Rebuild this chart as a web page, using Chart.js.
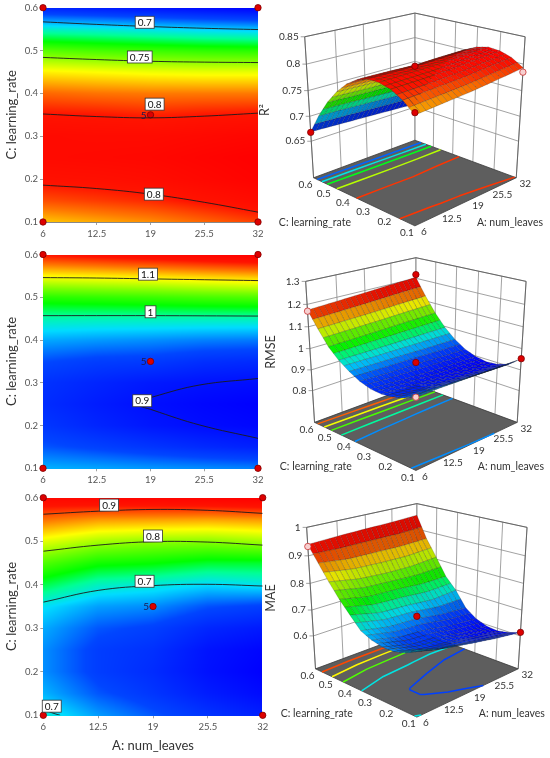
<!DOCTYPE html>
<html>
<head>
<meta charset="utf-8">
<script src="https://cdn.jsdelivr.net/npm/chart.js@4.4.0/dist/chart.umd.min.js"></script>
<style>
html, body { margin: 0; padding: 0; background: #fff; }
#wrap { position: relative; width: 550px; height: 758px; overflow: hidden; }
canvas { position: absolute; }
</style>
</head>
<body>
<div id="wrap">
	<canvas id="r2Contour" width="275" height="245" style="left:0;top:0"></canvas>
	<canvas id="r2Surface" width="275" height="245" style="left:275px;top:0"></canvas>
	<canvas id="rmseContour" width="275" height="245" style="left:0;top:245px"></canvas>
	<canvas id="rmseSurface" width="275" height="245" style="left:275px;top:245px"></canvas>
	<canvas id="maeContour" width="275" height="268" style="left:0;top:490px"></canvas>
	<canvas id="maeSurface" width="275" height="268" style="left:275px;top:490px"></canvas>
</div>
<script>
// 読み取ったグリッド（行 = C: learning_rate、列 = A: num_leaves）
const A_LEVELS = [6, 12.5, 19, 25.5, 32];
const C_LEVELS = [0.1, 0.15, 0.2, 0.25, 0.3, 0.35, 0.4, 0.45, 0.5, 0.55, 0.6];
const A_TICKS = [6, 12.5, 19, 25.5, 32];
const C_TICKS = [0.1, 0.2, 0.3, 0.4, 0.5, 0.6];

const R2_GRID = [
	[0.773, 0.777, 0.781, 0.787, 0.793],
	[0.791, 0.794, 0.797, 0.802, 0.807],
	[0.803, 0.804, 0.806, 0.810, 0.814],
	[0.808, 0.809, 0.810, 0.813, 0.816],
	[0.808, 0.807, 0.807, 0.809, 0.811],
	[0.801, 0.800, 0.798, 0.800, 0.801],
	[0.787, 0.785, 0.784, 0.784, 0.784],
	[0.767, 0.765, 0.763, 0.762, 0.762],
	[0.741, 0.738, 0.736, 0.734, 0.733],
	[0.708, 0.706, 0.703, 0.700, 0.698],
	[0.669, 0.666, 0.663, 0.660, 0.657]
];
const RMSE_GRID = [
	[0.965, 0.962, 0.958, 0.955, 0.952],
	[0.940, 0.932, 0.924, 0.916, 0.910],
	[0.925, 0.913, 0.903, 0.896, 0.892],
	[0.918, 0.907, 0.898, 0.892, 0.888],
	[0.922, 0.913, 0.905, 0.900, 0.897],
	[0.937, 0.930, 0.928, 0.920, 0.917],
	[0.963, 0.959, 0.956, 0.952, 0.950],
	[0.996, 0.995, 0.995, 0.995, 0.995],
	[1.040, 1.043, 1.046, 1.050, 1.053],
	[1.105, 1.109, 1.113, 1.119, 1.124],
	[1.175, 1.182, 1.190, 1.198, 1.205]
];
const MAE_GRID = [
	[0.705, 0.672, 0.650, 0.630, 0.614],
	[0.680, 0.650, 0.632, 0.612, 0.598],
	[0.668, 0.638, 0.624, 0.603, 0.590],
	[0.668, 0.638, 0.628, 0.605, 0.594],
	[0.677, 0.650, 0.640, 0.620, 0.610],
	[0.695, 0.673, 0.667, 0.648, 0.640],
	[0.737, 0.710, 0.703, 0.692, 0.698],
	[0.780, 0.757, 0.752, 0.742, 0.742],
	[0.830, 0.810, 0.802, 0.800, 0.808],
	[0.885, 0.872, 0.870, 0.868, 0.872],
	[0.940, 0.945, 0.948, 0.950, 0.955]
];

// 等高線（A, C）
const R2_CONTOURS = [
	[[6, 0.567], [12.5, 0.561], [19, 0.556], [25.5, 0.552], [32, 0.549]],
	[[6, 0.484], [12.5, 0.479], [19, 0.475], [25.5, 0.473], [32, 0.472]],
	[[6, 0.352], [12.5, 0.346], [19, 0.343], [25.5, 0.347], [32, 0.354]],
	[[6, 0.186], [12.5, 0.178], [19, 0.165], [25.5, 0.146], [32, 0.123]]
];
const R2_LABELS = [['0.7', 18.3, 0.566], ['0.75', 17.7, 0.485], ['0.8', 19.5, 0.375], ['0.8', 19.4, 0.165]];
const RMSE_CONTOURS = [
	[[6, 0.546], [12.5, 0.545], [19, 0.543], [25.5, 0.541], [32, 0.539]],
	[[6, 0.457], [19, 0.457], [32, 0.456]],
	[[32, 0.31], [25, 0.295], [19.3, 0.267], [17.2, 0.252], [19.3, 0.236], [25, 0.201], [32, 0.17]]
];
const RMSE_LABELS = [['1.1', 18.7, 0.554], ['1', 19.0, 0.466], ['0.9', 18.0, 0.258]];
const MAE_CONTOURS = [
	[[6, 0.562], [12.5, 0.569], [19, 0.573], [25.5, 0.571], [32, 0.564]],
	[[6, 0.477], [12.5, 0.491], [19, 0.499], [25.5, 0.498], [32, 0.491]],
	[[6, 0.36], [12.5, 0.387], [19, 0.398], [25.5, 0.401], [32, 0.397]],
	[[6, 0.114], [7, 0.106], [8, 0.1]]
];
const MAE_LABELS = [['0.9', 13.8, 0.583], ['0.8', 19.0, 0.512], ['0.7', 18.0, 0.408], ['0.7', 7.0, 0.121]];

// 計画点
const DESIGN_POINTS = [[6, 0.1], [6, 0.6], [32, 0.1], [32, 0.6], [19, 0.35]];
const CENTER_POINT = [19, 0.35];

// 3D: 軸目盛り・床の等高線レベル・実測点 (A, C, 値)
const R2_ZTICKS = [0.65, 0.7, 0.75, 0.8, 0.85];
const RMSE_ZTICKS = [0.8, 0.9, 1, 1.1, 1.2, 1.3];
const MAE_ZTICKS = [0.6, 0.7, 0.8, 0.9, 1];
const R2_FLOOR = [0.685, 0.705, 0.725, 0.755, 0.795];
const RMSE_FLOOR = [0.955, 1.0, 1.05, 1.1, 1.15];
const MAE_FLOOR = [0.64, 0.7, 0.78, 0.84, 0.9];
const R2_POINTS = [[6, 0.6, 0.668], [19, 0.35, 0.796], [6, 0.1, 0.777]];
const R2_POINTS_BELOW = [[32, 0.1, 0.785]];
const RMSE_POINTS = [[32, 0.6, 1.218], [19, 0.35, 0.935], [32, 0.1, 0.953]];
const RMSE_POINTS_BELOW = [[6, 0.6, 1.17], [6, 0.1, 0.963]];
const MAE_POINTS = [[19, 0.35, 0.676], [32, 0.1, 0.614]];
const MAE_POINTS_BELOW = [[6, 0.6, 0.933]];

const FONT = 'Lato, "Open Sans", sans-serif';
Chart.defaults.font.family = FONT;

// カラーマップ（青→シアン→緑→黄→赤）
const CMAP = [
	[0.00, [0, 0, 255]], [0.15, [0, 70, 255]], [0.28, [0, 220, 255]], [0.36, [0, 255, 150]],
	[0.44, [0, 255, 0]], [0.56, [120, 255, 0]], [0.68, [255, 255, 0]], [0.80, [255, 120, 0]],
	[0.90, [255, 20, 0]], [1.00, [255, 0, 0]]
];
function colorAt(t) {
	t = Math.max(0, Math.min(1, t));
	for (let i = 1; i < CMAP.length; i++) {
		if (t <= CMAP[i][0]) {
			const t0 = CMAP[i - 1][0], c0 = CMAP[i - 1][1], t1 = CMAP[i][0], c1 = CMAP[i][1];
			const f = (t - t0) / (t1 - t0);
			return [0, 1, 2].map(k => c0[k] + f * (c1[k] - c0[k]));
		}
	}
	return CMAP[CMAP.length - 1][1].slice();
}
const rgb = c => `rgb(${Math.round(c[0])},${Math.round(c[1])},${Math.round(c[2])})`;
function gridRange(grid) {
	const all = grid.flat();
	return [Math.min(...all), Math.max(...all)];
}
// グリッド上の描画用サンプル
function sample(grid, a, c) {
	let fi = (a - A_LEVELS[0]) / (A_LEVELS[1] - A_LEVELS[0]);
	let fj = (c - C_LEVELS[0]) / (C_LEVELS[1] - C_LEVELS[0]);
	fi = Math.max(0, Math.min(A_LEVELS.length - 1.0001, fi));
	fj = Math.max(0, Math.min(C_LEVELS.length - 1.0001, fj));
	const i = Math.floor(fi), j = Math.floor(fj), u = fi - i, v = fj - j;
	return grid[j][i] * (1 - u) * (1 - v) + grid[j][i + 1] * u * (1 - v) +
		grid[j + 1][i] * (1 - u) * v + grid[j + 1][i + 1] * u * v;
}

// ---------- 等高線図 ----------
function makeContourPlugin(cfg) {
	const [vmin, vmax] = gridRange(cfg.grid);
	return {
		id: 'contourField',
		beforeDatasetsDraw(chart) {
			const { ctx, chartArea: ca, scales: { x, y } } = chart;
			const w = Math.round(ca.right - ca.left), h = Math.round(ca.bottom - ca.top);
			const off = document.createElement('canvas');
			off.width = w; off.height = h;
			const octx = off.getContext('2d');
			const img = octx.createImageData(w, h);
			for (let py = 0; py < h; py++) {
				const c = y.getValueForPixel(ca.top + py + 0.5);
				for (let px = 0; px < w; px++) {
					const a = x.getValueForPixel(ca.left + px + 0.5);
					const col = colorAt((sample(cfg.grid, a, c) - vmin) / (vmax - vmin));
					const k = (py * w + px) * 4;
					img.data[k] = col[0]; img.data[k + 1] = col[1]; img.data[k + 2] = col[2]; img.data[k + 3] = 255;
				}
			}
			octx.putImageData(img, 0, 0);
			ctx.drawImage(off, ca.left, ca.top, w, h);
		},
		afterDatasetsDraw(chart) {
			const { ctx, scales: { x, y } } = chart;
			ctx.save();
			ctx.font = `10px ${FONT}`;
			ctx.textAlign = 'center';
			ctx.textBaseline = 'middle';
			cfg.labels.forEach(([txt, a, c]) => {
				const px = x.getPixelForValue(a), py = y.getPixelForValue(c);
				const tw = ctx.measureText(txt).width + 5;
				ctx.fillStyle = '#fff';
				ctx.fillRect(px - tw / 2, py - 6, tw, 12);
				ctx.strokeStyle = '#333';
				ctx.lineWidth = 0.8;
				ctx.strokeRect(px - tw / 2, py - 6, tw, 12);
				ctx.fillStyle = '#111';
				ctx.fillText(txt, px, py + 0.5);
			});
			// 中心点の反復数
			ctx.fillStyle = '#1a1a50';
			ctx.textAlign = 'right';
			ctx.fillText('5', x.getPixelForValue(CENTER_POINT[0]) - 4, y.getPixelForValue(CENTER_POINT[1]) + 0.5);
			// 応答名
			ctx.translate(cfg.sideX, cfg.sideY);
			ctx.rotate(-Math.PI / 2);
			ctx.textAlign = 'center';
			ctx.fillStyle = '#333';
			ctx.font = `12.5px ${FONT}`;
			ctx.fillText(cfg.side, 0, 0);
			ctx.restore();
		}
	};
}

function contourChart(id, cfg) {
	const datasets = cfg.contours.map(pts => ({
		data: pts.map(p => ({ x: p[0], y: p[1] })),
		showLine: true,
		borderColor: '#1c1c1c',
		borderWidth: 0.9,
		pointRadius: 0,
		tension: 0.4
	}));
	datasets.push({
		data: DESIGN_POINTS.map(p => ({ x: p[0], y: p[1] })),
		pointRadius: 3.2,
		backgroundColor: '#dd0000',
		borderColor: '#800000',
		borderWidth: 0.8,
		clip: false
	});
	const axisGrid = { display: true, drawOnChartArea: false, drawTicks: true, tickLength: 3, color: '#888', lineWidth: 0.8 };
	return new Chart(document.getElementById(id), {
		type: 'scatter',
		data: { datasets },
		options: {
			responsive: false,
			animation: false,
			events: [],
			layout: { padding: { top: cfg.padTop, right: cfg.padRight, left: 0, bottom: 0 } },
			plugins: { legend: { display: false }, tooltip: { enabled: false } },
			scales: {
				x: {
					type: 'linear', min: 6, max: 32,
					afterBuildTicks: s => { s.ticks = A_TICKS.map(v => ({ value: v })); },
					afterFit: s => { s.height = cfg.xHeight; },
					grid: axisGrid,
					border: { display: true, color: '#888' },
					ticks: { padding: 3, color: '#555', font: { size: 9.5 }, maxRotation: 0, autoSkip: false, callback: v => String(v) },
					title: { display: !!cfg.xTitle, text: cfg.xTitle || '', color: '#333', font: { size: 13 } }
				},
				y: {
					type: 'linear', min: 0.1, max: 0.6,
					afterBuildTicks: s => { s.ticks = C_TICKS.map(v => ({ value: v })); },
					afterFit: s => { s.width = cfg.yWidth; },
					grid: axisGrid,
					border: { display: true, color: '#888' },
					ticks: { padding: 2, color: '#555', font: { size: 9.5 }, autoSkip: false, callback: v => String(v) },
					title: { display: true, text: 'C: learning_rate', color: '#333', font: { size: 13 } }
				}
			}
		},
		plugins: [makeContourPlugin(cfg)]
	});
}

// ---------- 3D 曲面 ----------
const VIEW = { elev: 24.7 * Math.PI / 180, dist: 5.19, scale: 148.5 };
function world(a, c, z, cfg) {
	return [(a - 6) / 26 - 0.5, (c - 0.1) / 0.5 - 0.5, (z - cfg.zFloor) / (cfg.zTop - cfg.zFloor)];
}
function project(a, c, z, cfg) {
	const [X, Y, Z] = world(a, c, z, cfg);
	const se = Math.sin(VIEW.elev), ce = Math.cos(VIEW.elev);
	const r = (X - Y) / Math.SQRT2;
	const f = (X + Y) / Math.SQRT2;
	const up = se * f + ce * Z;
	const depth = VIEW.dist + ce * f - se * Z;
	const k = VIEW.dist / depth;
	return { x: r * k, y: up * k, depth };
}
function floorSegments(grid, level) {
	const segs = [];
	for (let j = 0; j < C_LEVELS.length - 1; j++) {
		for (let i = 0; i < A_LEVELS.length - 1; i++) {
			const cs = [
				[A_LEVELS[i], C_LEVELS[j], grid[j][i]],
				[A_LEVELS[i + 1], C_LEVELS[j], grid[j][i + 1]],
				[A_LEVELS[i + 1], C_LEVELS[j + 1], grid[j + 1][i + 1]],
				[A_LEVELS[i], C_LEVELS[j + 1], grid[j + 1][i]]
			];
			const pts = [];
			for (let e = 0; e < 4; e++) {
				const p = cs[e], q = cs[(e + 1) % 4];
				if ((p[2] < level) !== (q[2] < level)) {
					const t = (level - p[2]) / (q[2] - p[2]);
					pts.push([p[0] + t * (q[0] - p[0]), p[1] + t * (q[1] - p[1])]);
				}
			}
			if (pts.length === 2) segs.push(pts);
			else if (pts.length === 4) { segs.push([pts[0], pts[1]]); segs.push([pts[2], pts[3]]); }
		}
	}
	return segs;
}
const norm3 = v => { const l = Math.hypot(v[0], v[1], v[2]) || 1; return [v[0] / l, v[1] / l, v[2] / l]; };
const LIGHT = norm3([-0.3, -0.15, 1]);
const VIEWER = norm3([-0.64, -0.64, 0.42]);
const HALF = norm3([LIGHT[0] + VIEWER[0], LIGHT[1] + VIEWER[1], LIGHT[2] + VIEWER[2]]);

function makeSurfacePlugin(cfg) {
	const P = (a, c, z) => project(a, c, z, cfg);
	const [vmin, vmax] = gridRange(cfg.grid);
	const zF = cfg.zFloor;
	return {
		id: 'surface3d',
		beforeDatasetsDraw(chart) {
			const { ctx, scales: { x, y } } = chart;
			const pix = p => [x.getPixelForValue(p.x), y.getPixelForValue(p.y)];
			const seg = (p, q) => { const a = pix(p), b = pix(q); ctx.moveTo(a[0], a[1]); ctx.lineTo(b[0], b[1]); };
			ctx.save();
			// 背面の壁とグリッド
			ctx.strokeStyle = '#8a8a8a';
			ctx.lineWidth = 0.8;
			ctx.beginPath();
			A_TICKS.forEach(a => seg(P(a, 0.6, zF), P(a, 0.6, cfg.zTop)));
			C_TICKS.forEach(c => seg(P(32, c, zF), P(32, c, cfg.zTop)));
			cfg.zTicks.forEach(z => {
				seg(P(6, 0.6, z), P(32, 0.6, z));
				seg(P(32, 0.6, z), P(32, 0.1, z));
				const t = pix(P(6, 0.6, z));
				ctx.moveTo(t[0] - 4, t[1]); ctx.lineTo(t[0], t[1]);
			});
			ctx.stroke();
			ctx.strokeStyle = '#555';
			ctx.beginPath();
			seg(P(6, 0.6, cfg.zTop), P(32, 0.6, cfg.zTop));
			seg(P(32, 0.6, cfg.zTop), P(32, 0.1, cfg.zTop));
			seg(P(6, 0.6, zF), P(6, 0.6, cfg.zTop));
			seg(P(32, 0.1, zF), P(32, 0.1, cfg.zTop));
			ctx.stroke();
			// 床
			const fl = [P(6, 0.1, zF), P(32, 0.1, zF), P(32, 0.6, zF), P(6, 0.6, zF)].map(pix);
			ctx.beginPath();
			fl.forEach((p, i) => (i ? ctx.lineTo(p[0], p[1]) : ctx.moveTo(p[0], p[1])));
			ctx.closePath();
			ctx.fillStyle = '#5e5e5e';
			ctx.fill();
			ctx.strokeStyle = '#3a3a3a';
			ctx.lineWidth = 0.8;
			ctx.stroke();
			// 床の等高線
			ctx.lineWidth = 1.5;
			cfg.floorLevels.forEach(lv => {
				ctx.strokeStyle = rgb(colorAt((lv - vmin) / (vmax - vmin)));
				ctx.beginPath();
				floorSegments(cfg.grid, lv).forEach(([p, q]) => seg(P(p[0], p[1], zF), P(q[0], q[1], zF)));
				ctx.stroke();
			});
			// 曲面
			const NA = 22, NC = 20;
			const nodes = [];
			for (let l = 0; l <= NC; l++) {
				const row = [];
				for (let k = 0; k <= NA; k++) {
					const a = 6 + 26 * k / NA, c = 0.1 + 0.5 * l / NC;
					const v = sample(cfg.grid, a, c);
					const p = P(a, c, v);
					row.push({ v, w: world(a, c, v, cfg), p, s: pix(p) });
				}
				nodes.push(row);
			}
			const quads = [];
			for (let l = 0; l < NC; l++) {
				for (let k = 0; k < NA; k++) {
					const q = [nodes[l][k], nodes[l][k + 1], nodes[l + 1][k + 1], nodes[l + 1][k]];
					const u = q[1].w.map((t, i) => t - q[0].w[i]);
					const v = q[3].w.map((t, i) => t - q[0].w[i]);
					let n = norm3([u[1] * v[2] - u[2] * v[1], u[2] * v[0] - u[0] * v[2], u[0] * v[1] - u[1] * v[0]]);
					if (n[2] < 0) n = n.map(t => -t);
					const diff = Math.max(0, n[0] * LIGHT[0] + n[1] * LIGHT[1] + n[2] * LIGHT[2]);
					const spec = Math.pow(Math.max(0, n[0] * HALF[0] + n[1] * HALF[1] + n[2] * HALF[2]), 40);
					const base = colorAt(((q[0].v + q[1].v + q[2].v + q[3].v) / 4 - vmin) / (vmax - vmin));
					const col = base.map(ch => Math.min(255, ch * (0.62 + 0.38 * diff) + 70 * spec));
					quads.push({ q, col, depth: (q[0].p.depth + q[1].p.depth + q[2].p.depth + q[3].p.depth) / 4 });
				}
			}
			quads.sort((m, n) => n.depth - m.depth);
			ctx.lineWidth = 0.4;
			ctx.strokeStyle = 'rgba(25,25,25,0.5)';
			quads.forEach(({ q, col }) => {
				ctx.beginPath();
				q.forEach((nd, i) => (i ? ctx.lineTo(nd.s[0], nd.s[1]) : ctx.moveTo(nd.s[0], nd.s[1])));
				ctx.closePath();
				ctx.fillStyle = rgb(col);
				ctx.fill();
				ctx.stroke();
			});
			ctx.restore();
		},
		afterDraw(chart) {
			const { ctx, scales: { x, y } } = chart;
			const pix = p => [x.getPixelForValue(p.x), y.getPixelForValue(p.y)];
			ctx.save();
			ctx.fillStyle = '#333';
			ctx.font = `10px ${FONT}`;
			ctx.textBaseline = 'middle';
			ctx.textAlign = 'right';
			cfg.zTicks.forEach(z => { const t = pix(P(6, 0.6, z)); ctx.fillText(String(z), t[0] - 6, t[1]); });
			ctx.textAlign = 'center';
			C_TICKS.forEach(c => { const t = pix(P(6, c, zF)); ctx.fillText(String(c), t[0] - 8, t[1] + 7); });
			A_TICKS.forEach(a => { const t = pix(P(a, 0.1, zF)); ctx.fillText(String(a), t[0] + 9, t[1] + 6); });
			ctx.font = `10.5px ${FONT}`;
			const ct = pix(P(6, 0.35, zF));
			ctx.fillText('C: learning_rate', ct[0] - 46, ct[1] + 22);
			const at = pix(P(19, 0.1, zF));
			ctx.fillText('A: num_leaves', at[0] + 41, at[1] + 22);
			ctx.restore();
		}
	};
}

function surfaceChart(id, cfg) {
	const canvas = document.getElementById(id);
	const W = canvas.width, H = canvas.height, S = VIEW.scale;
	const toXY = p => { const q = project(p[0], p[1], p[2], cfg); return { x: q.x, y: q.y }; };
	return new Chart(canvas, {
		type: 'scatter',
		data: {
			datasets: [{
				data: cfg.points.map(toXY),
				pointRadius: 3.2,
				backgroundColor: '#dd0000',
				borderColor: '#800000',
				borderWidth: 0.8,
				clip: false
			}, {
				data: cfg.pointsBelow.map(toXY),
				pointRadius: 3.2,
				backgroundColor: '#f7d0d0',
				borderColor: '#c83030',
				borderWidth: 0.8,
				clip: false
			}]
		},
		options: {
			responsive: false,
			animation: false,
			events: [],
			layout: { padding: 0 },
			plugins: { legend: { display: false }, tooltip: { enabled: false } },
			scales: {
				x: { type: 'linear', display: false, min: -cfg.ox / S, max: (W - cfg.ox) / S },
				y: { type: 'linear', display: false, min: -(H - cfg.oy) / S, max: cfg.oy / S }
			}
		},
		plugins: [makeSurfacePlugin(cfg)]
	});
}

contourChart('r2Contour', { grid: R2_GRID, contours: R2_CONTOURS, labels: R2_LABELS, side: 'R²', sideX: 265, sideY: 110, padTop: 7.5, padRight: 17, yWidth: 43, xHeight: 23 });
contourChart('rmseContour', { grid: RMSE_GRID, contours: RMSE_CONTOURS, labels: RMSE_LABELS, side: 'RMSE', sideX: 271, sideY: 107, padTop: 9.5, padRight: 17, yWidth: 43, xHeight: 21.7 });
contourChart('maeContour', { grid: MAE_GRID, contours: MAE_CONTOURS, labels: MAE_LABELS, side: 'MAE', sideX: 271, sideY: 108, padTop: 6.7, padRight: 12.3, yWidth: 43.3, xHeight: 42.7, xTitle: 'A: num_leaves' });

surfaceChart('r2Surface', { grid: R2_GRID, zFloor: 0.574, zTop: 0.85, zTicks: R2_ZTICKS, floorLevels: R2_FLOOR, points: R2_POINTS, pointsBelow: R2_POINTS_BELOW, ox: 140, oy: 180 });
surfaceChart('rmseSurface', { grid: RMSE_GRID, zFloor: 0.642, zTop: 1.3, zTicks: RMSE_ZTICKS, floorLevels: RMSE_FLOOR, points: RMSE_POINTS, pointsBelow: RMSE_POINTS_BELOW, ox: 141, oy: 179.6 });
surfaceChart('maeSurface', { grid: MAE_GRID, zFloor: 0.468, zTop: 1.0, zTicks: MAE_ZTICKS, floorLevels: MAE_FLOOR, points: MAE_POINTS, pointsBelow: MAE_POINTS_BELOW, ox: 142, oy: 180.5 });
</script>
</body>
</html>
